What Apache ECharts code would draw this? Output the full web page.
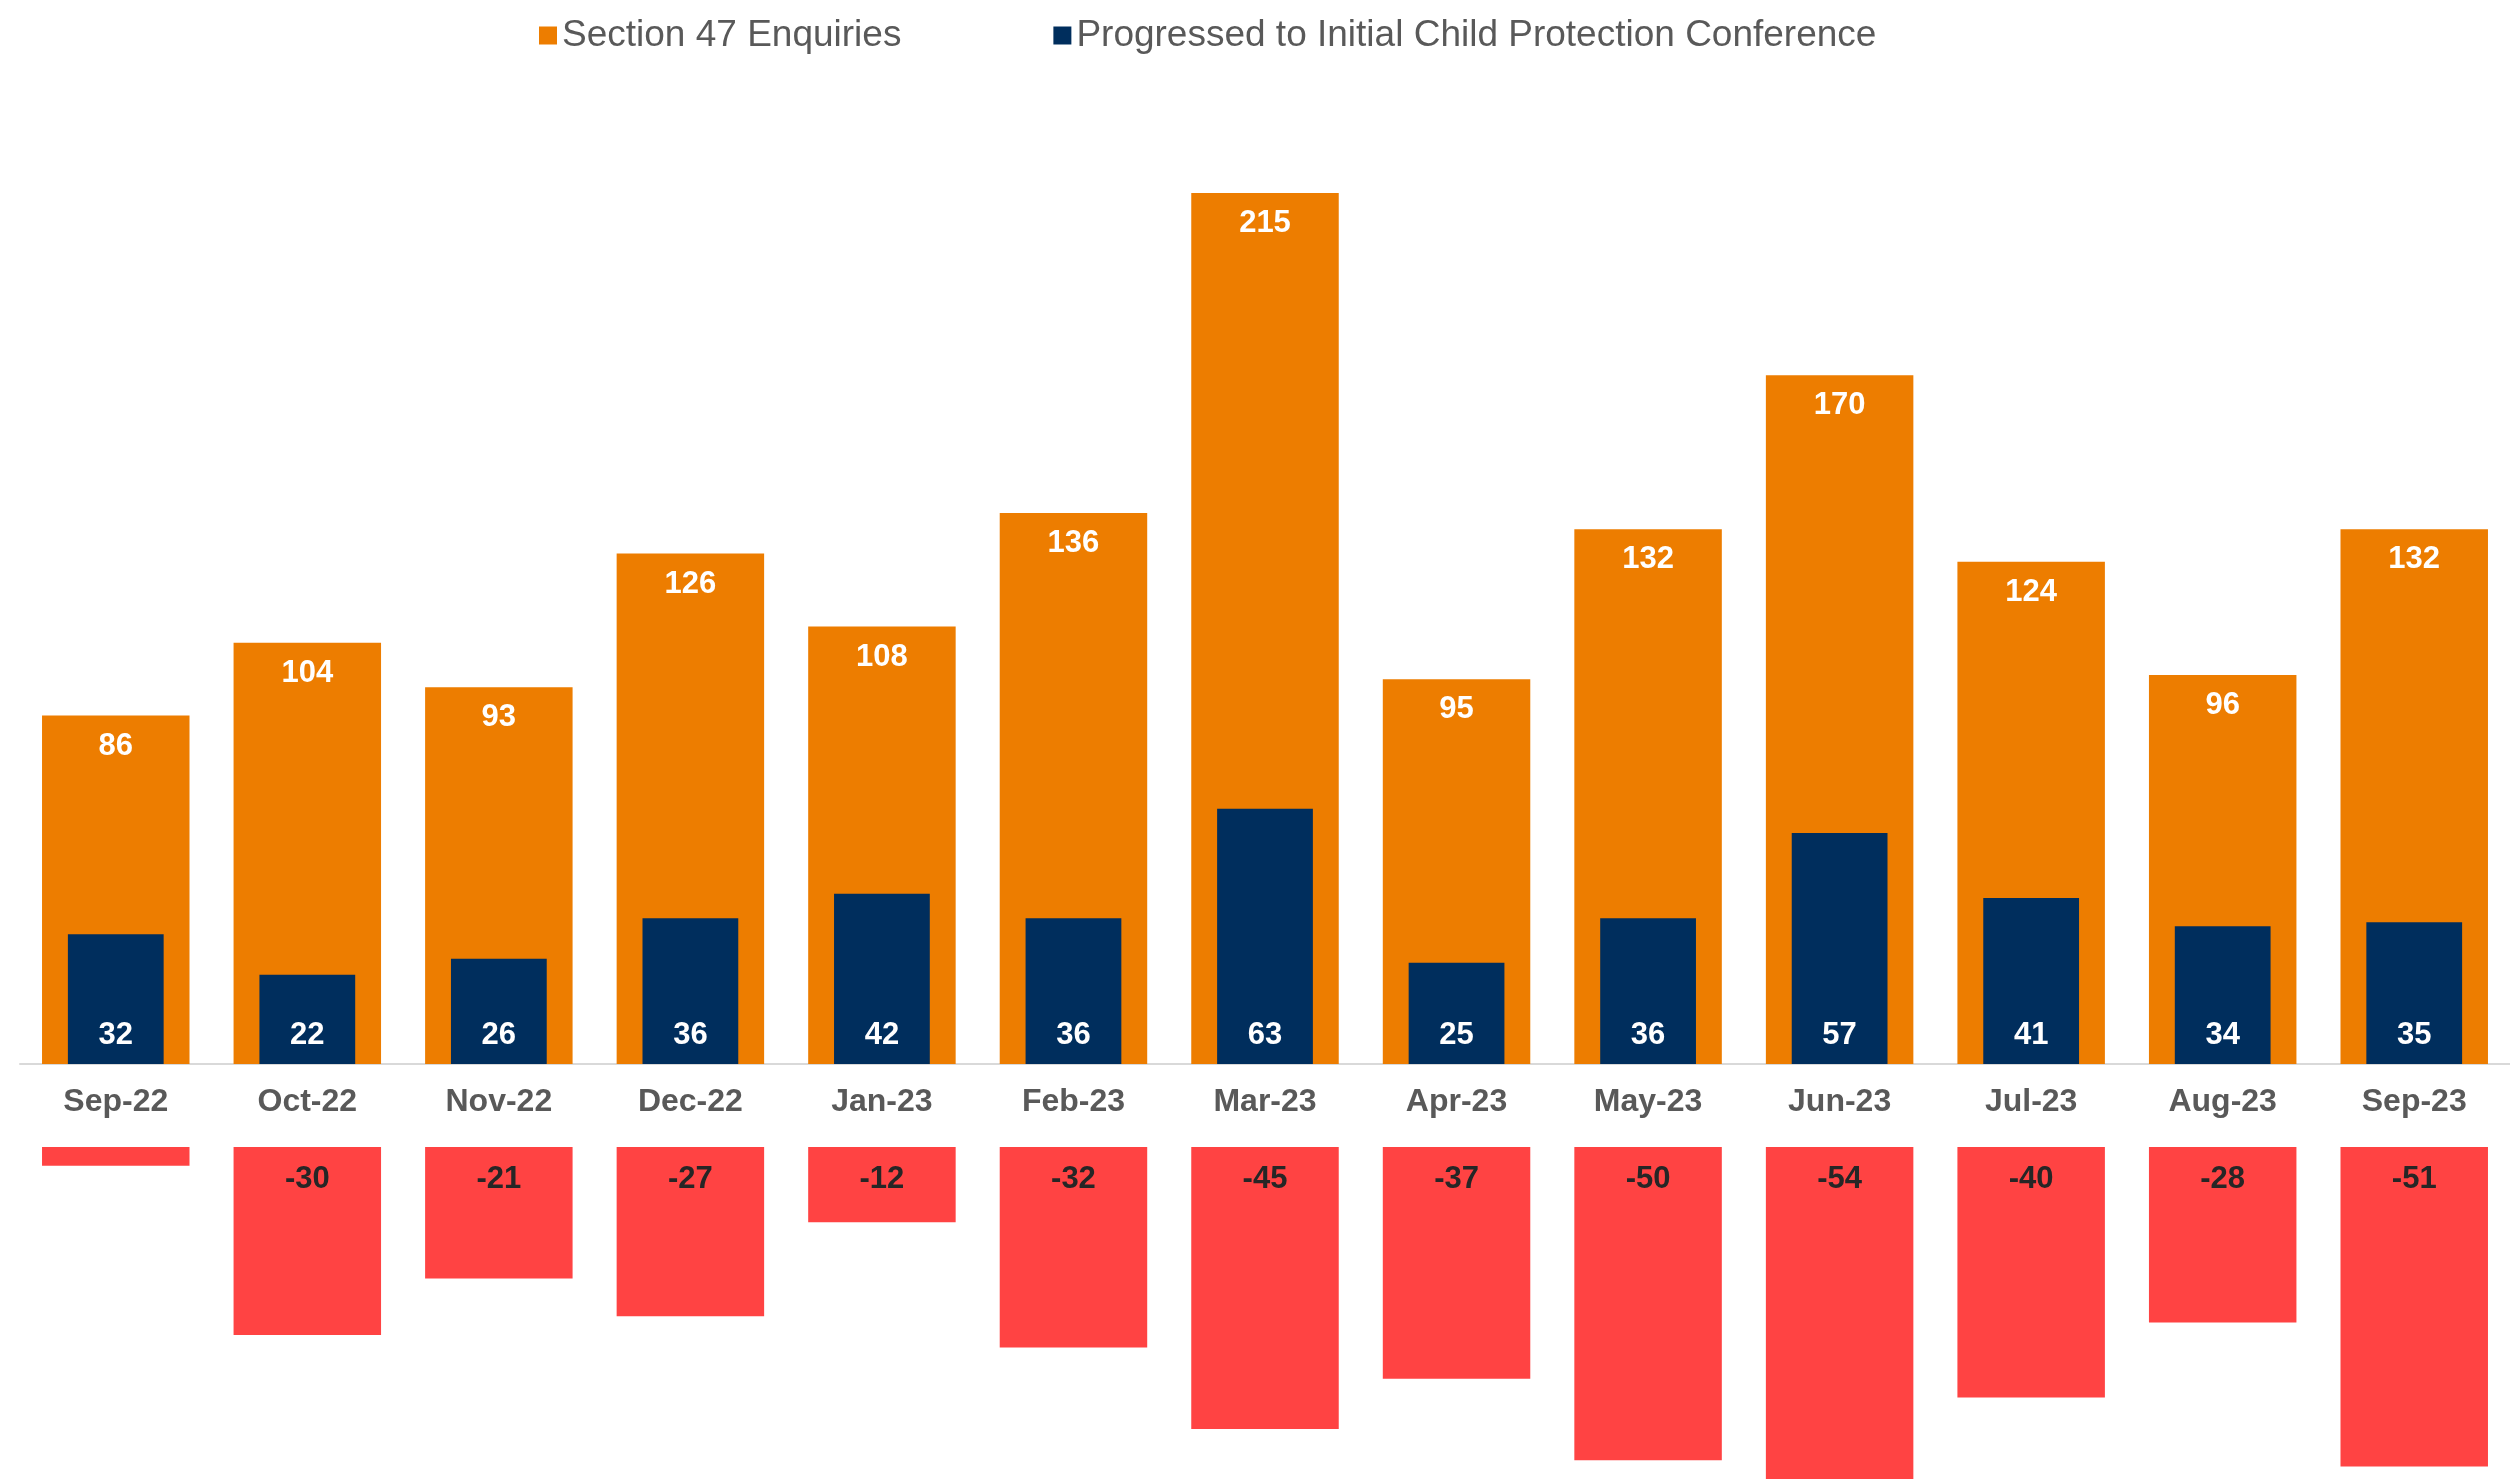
<!DOCTYPE html>
<html>
<head>
<meta charset="utf-8">
<title>Section 47 Enquiries</title>
<script src="https://cdn.jsdelivr.net/npm/echarts@6/dist/echarts.min.js"></script>
<style>
  html, body { margin: 0; padding: 0; background: #fff; }
  #chart { width: 2510px; height: 1481px; }
</style>
</head>
<body>
<div id="chart"></div>
<script>
const months = ['Sep-22', 'Oct-22', 'Nov-22', 'Dec-22', 'Jan-23', 'Feb-23', 'Mar-23',
  'Apr-23', 'May-23', 'Jun-23', 'Jul-23', 'Aug-23', 'Sep-23']
const enquiries = [86, 104, 93, 126, 108, 136, 215, 95, 132, 170, 124, 96, 132]
const progressed = [32, 22, 26, 36, 42, 36, 63, 25, 36, 57, 41, 34, 35]
const change = [-3, -30, -21, -27, -12, -32, -45, -37, -50, -54, -40, -28, -51]

const font = 'Liberation Sans, Arial, sans-serif'

const chart = echarts.init(document.getElementById('chart'))
chart.setOption({
  animation: false,
  textStyle: { fontFamily: font },
  legend: {
    top: 12,
    left: 534,
    itemWidth: 18,
    itemHeight: 18,
    itemGap: 152,
    icon: 'rect',
    textStyle: { fontSize: 37, color: '#595959', fontFamily: font },
    data: ['Section 47 Enquiries', 'Progressed to Initial Child Protection Conference']
  },
  grid: [
    { left: 20, right: 0, top: 193, bottom: 417 },
    { left: 20, right: 0, top: 1147, bottom: 2 }
  ],
  xAxis: [
    {
      type: 'category', gridIndex: 0, data: months,
      axisLine: { lineStyle: { color: '#d9d9d9', width: 2 } },
      axisTick: { show: false },
      axisLabel: { margin: 22, fontSize: 32, fontWeight: 'bold', color: '#595959', fontFamily: font }
    },
    { type: 'category', gridIndex: 0, data: months, show: false },
    { type: 'category', gridIndex: 1, data: months, show: false }
  ],
  yAxis: [
    { type: 'value', gridIndex: 0, min: 0, max: 215, show: false, splitLine: { show: false } },
    { type: 'value', gridIndex: 1, min: -53, max: 0, show: false, splitLine: { show: false } }
  ],
  series: [
    {
      name: 'Section 47 Enquiries',
      type: 'bar',
      xAxisIndex: 0, yAxisIndex: 0,
      barWidth: '77%',
      data: enquiries,
      itemStyle: { color: '#ED7D00' },
      label: {
        show: true, position: 'insideTop', distance: 15,
        fontSize: 31, fontWeight: 'bold', color: '#fff', fontFamily: font
      }
    },
    {
      name: 'Progressed to Initial Child Protection Conference',
      type: 'bar',
      xAxisIndex: 1, yAxisIndex: 0,
      barWidth: '50%',
      data: progressed,
      itemStyle: { color: '#002E5D' },
      label: {
        show: true, position: 'insideBottom', distance: 13,
        fontSize: 31, fontWeight: 'bold', color: '#fff', fontFamily: font
      }
    },
    {
      name: 'Change',
      type: 'bar',
      xAxisIndex: 2, yAxisIndex: 1,
      barWidth: '77%',
      data: change,
      itemStyle: { color: '#FF4343' },
      label: {
        show: true, position: 'insideTop', distance: 17,
        fontSize: 31, fontWeight: 'bold', color: '#262626', fontFamily: font,
        // the smallest bar is too short to hold its label
        formatter: p => (Math.abs(p.value) < 5 ? '' : p.value)
      }
    }
  ]
})
</script>
</body>
</html>
